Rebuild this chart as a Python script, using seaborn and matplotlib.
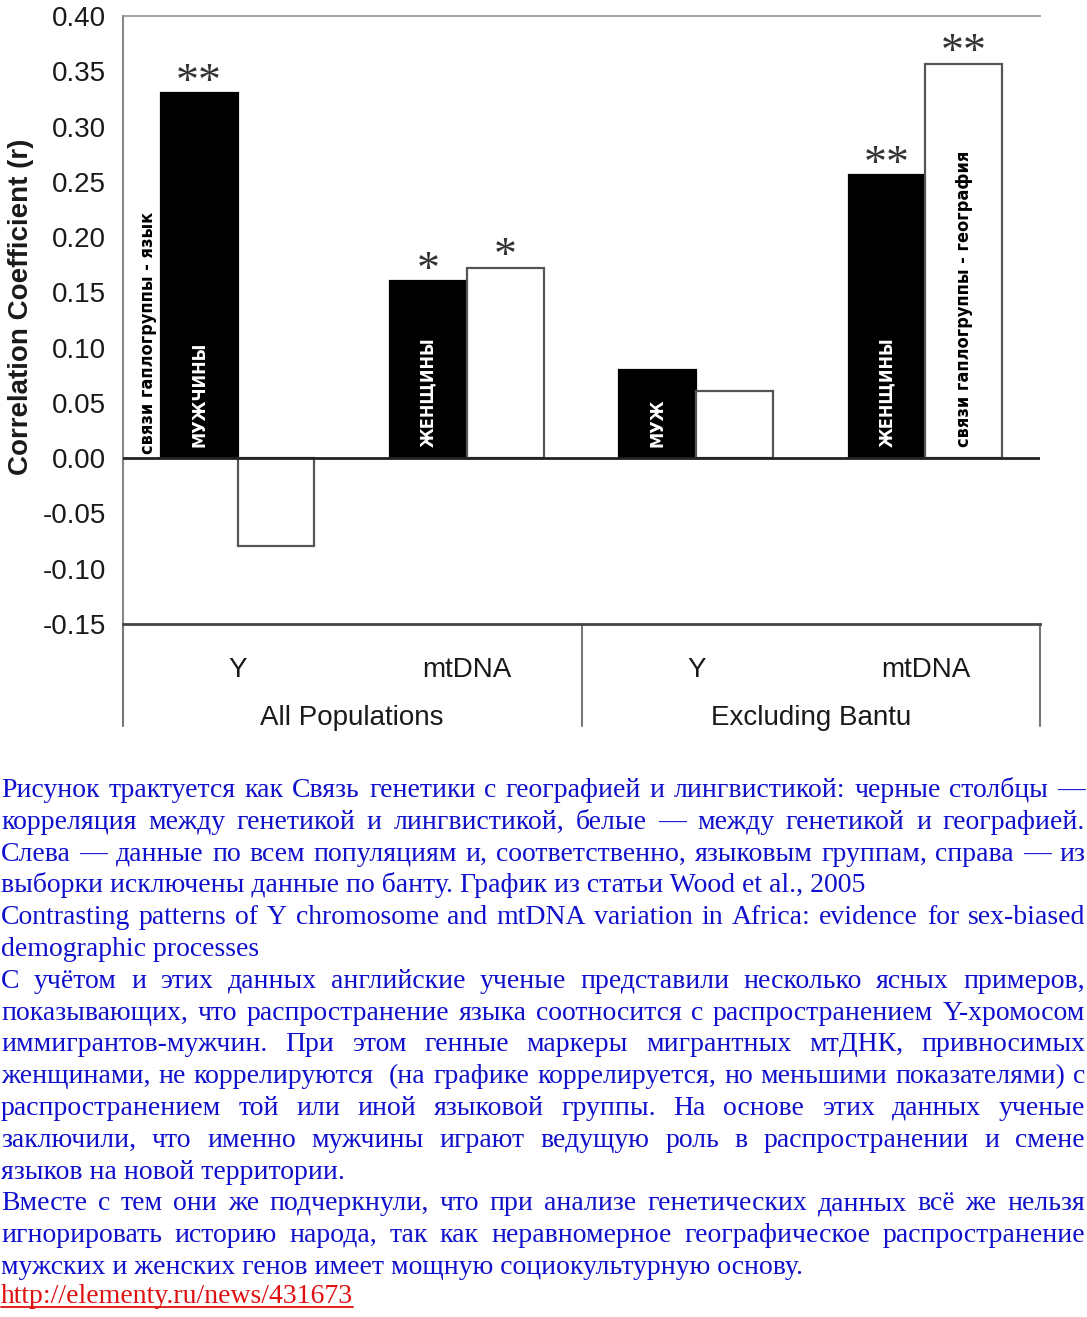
import matplotlib
matplotlib.use("Agg")
import matplotlib.pyplot as plt
import matplotlib.transforms as mtransforms
from matplotlib import font_manager as fm
from matplotlib.lines import Line2D
import numpy as np
import pandas as pd
import seaborn as sns

# ---------------- data ----------------
groups = ["All Populations", "All Populations", "Excluding Bantu", "Excluding Bantu"]
markers = ["Y", "mtDNA", "Y", "mtDNA"]
r_language = [0.330, 0.160, 0.080, 0.256]      # black bars
r_geography = [-0.079, 0.172, 0.061, 0.357]    # white bars
stars_language = ["**", "*", "", "**"]
stars_geography = ["", "*", "", "**"]
labels_language = ["МУЖЧИНЫ", "ЖЕНЩИНЫ", "МУЖ", "ЖЕНЩИНЫ"]
labels_geography = ["", "", "", "связи гаплогруппы - география"]
label_outside = "связи гаплогруппы - язык"
yticks = [-0.15, -0.10, -0.05, 0.00, 0.05, 0.10, 0.15, 0.20, 0.25, 0.30, 0.35, 0.40]
ylabel = "Correlation Coefficient (r)"

caption_lines = [
    ("Рисунок трактуется как Связь генетики с географией и лингвистикой: черные столбцы —", True),
    ("корреляция между генетикой и лингвистикой, белые — между генетикой и географией.", True),
    ("Слева — данные по всем популяциям и, соответственно, языковым группам, справа — из", True),
    ("выборки исключены данные по банту. График из статьи Wood et al., 2005", False),
    ("Contrasting patterns of Y chromosome and mtDNA variation in Africa: evidence for sex-biased", True),
    ("demographic processes", False),
    ("С учётом и этих данных английские ученые представили несколько ясных примеров,", True),
    ("показывающих, что распространение языка соотносится с распространением Y-хромосом", True),
    ("иммигрантов-мужчин. При этом генные маркеры мигрантных мтДНК, привносимых", True),
    ("женщинами, не коррелируются  (на графике коррелируется, но меньшими показателями) с", True),
    ("распространением той или иной языковой группы. На основе этих данных ученые", True),
    ("заключили, что именно мужчины играют ведущую роль в распространении и смене", True),
    ("языков на новой территории.", False),
    ("Вместе с тем они же подчеркнули, что при анализе генетических данных всё же нельзя", True),
    ("игнорировать историю народа, так как неравномерное географическое распространение", True),
    ("мужских и женских генов имеет мощную социокультурную основу.", False),
]
link_text = "http://elementy.ru/news/431673"

# ---------------- style ----------------
sns.set_theme(style="white")
plt.rcParams["font.family"] = ["Liberation Sans", "DejaVu Sans"]

available = {f.name for f in fm.fontManager.ttflist}
if "Liberation Sans Narrow" in available:
    narrow = dict(family=["Liberation Sans Narrow", "DejaVu Sans"], fontweight="bold")
else:
    narrow = dict(family=["DejaVu Sans"], fontstretch="condensed", fontweight="bold")

W, H = 1087, 1317
fig = plt.figure(figsize=(W / 100, H / 100), dpi=100)
fig.patch.set_facecolor("white")

ax_left, ax_right, ax_top, ax_bottom = 123, 1040, 16, 624
ax = fig.add_axes([ax_left / W, 1 - ax_bottom / H, (ax_right - ax_left) / W, (ax_bottom - ax_top) / H])

keys = [g + " | " + m for g, m in zip(groups, markers)]
df = pd.DataFrame({
    "key": keys + keys,
    "value": r_language + r_geography,
    "measure": ["language"] * len(keys) + ["geography"] * len(keys),
})

sns.barplot(data=df, x="key", y="value", hue="measure", hue_order=["language", "geography"],
            palette={"language": "black", "geography": "white"}, order=keys,
            width=0.67, saturation=1, edgecolor="#555555", linewidth=1.6,
            legend=False, ax=ax, zorder=2)

for p in ax.containers[0]:
    p.set_edgecolor("black")

ax.set_xlim(-0.5, len(keys) - 0.5)
ax.set_ylim(min(yticks), max(yticks))
ax.axhline(0, color="#222222", lw=2, zorder=3)

# spines
for s in ["right"]:
    ax.spines[s].set_visible(False)
ax.spines["top"].set_color("#9a9a9a")
ax.spines["top"].set_linewidth(1.3)
ax.spines["left"].set_color("#888888")
ax.spines["left"].set_linewidth(1.5)
ax.spines["bottom"].set_color("#444444")
ax.spines["bottom"].set_linewidth(2)

ax.set_yticks(yticks)
ax.set_yticklabels([f"{v:.2f}" for v in yticks])
ax.tick_params(axis="y", length=0, pad=12, labelsize=20, labelcolor="#1a1a1a")
ax.set_xticks(range(len(keys)))
ax.set_xticklabels(markers)
ax.tick_params(axis="x", length=0, pad=23.5, labelsize=20, labelcolor="#1a1a1a")
ax.set_xlabel("")
ax.set_ylabel(ylabel, fontsize=20, fontweight="bold", color="#1a1a1a")
ax.yaxis.set_label_coords(-0.097, 0.522)

# category table lines and group labels
ax_h = ax_bottom - ax_top
table_bottom = -(726 - ax_bottom) / ax_h
blend = mtransforms.blended_transform_factory(ax.transData, ax.transAxes)
uniq_groups = list(dict.fromkeys(groups))
bounds = []
for g in uniq_groups:
    idx = [i for i, gg in enumerate(groups) if gg == g]
    center = np.mean(idx)
    ax.text(center, -(718 - ax_bottom) / ax_h, g, transform=blend, ha="center", va="center",
            fontsize=20, color="#1a1a1a")
    bounds.append(max(idx) + 0.5)
for b in [-0.5] + bounds:
    ax.plot([b, b], [0, table_bottom], transform=blend, color="#777777", lw=1.5, clip_on=False)

# stars and inner labels
for cont, stars, labs, txtcol in [(ax.containers[0], stars_language, labels_language, "white"),
                                  (ax.containers[1], stars_geography, labels_geography, "black")]:
    for p, st, lb in zip(cont, stars, labs):
        xc = p.get_x() + p.get_width() / 2
        top = p.get_y() + p.get_height()
        if st:
            ax.annotate(st, (xc, top), xytext=(0, -1), textcoords="offset points",
                        ha="center", va="baseline", fontsize=33,
                        family=["Liberation Serif", "DejaVu Serif"], color="#333333", zorder=4)
        if lb:
            ax.annotate(lb, (xc, 0), xytext=(0, 8), textcoords="offset points",
                        ha="center", va="bottom", rotation=90, fontsize=13,
                        color=txtcol, zorder=4, **narrow)

first = ax.containers[0][0]
ax.annotate(label_outside, (first.get_x(), 0), xytext=(-9, 3), textcoords="offset points",
            ha="center", va="bottom", rotation=90, fontsize=13, color="black", zorder=4, **narrow)

# ---------------- caption ----------------
cap_font = dict(family=["Liberation Serif", "DejaVu Serif"], fontsize=20)
blue = "#1010cc"
renderer = fig.canvas.get_renderer()
x0, x1 = 1, 1085
base0, step = 797, 31.8
for i, (line, just) in enumerate(caption_lines):
    yb = base0 + step * i
    if just:
        words = line.split(" ")
        texts = [fig.text(0, 1 - yb / H, w, va="baseline", ha="left", color=blue, **cap_font) for w in words]
        widths = [t.get_window_extent(renderer).width if w else 0 for t, w in zip(texts, words)]
        gap = (x1 - x0 - sum(widths)) / (len(words) - 1)
        x = x0
        for t, w in zip(texts, widths):
            t.set_x(x / W)
            x += w + gap
    else:
        fig.text(x0 / W, 1 - yb / H, line, va="baseline", ha="left", color=blue, **cap_font)

yb = 1303
lt = fig.text(x0 / W, 1 - yb / H, link_text, va="baseline", ha="left", color="#e01010", **cap_font)
lw_ = lt.get_window_extent(renderer).width
fig.add_artist(Line2D([x0 / W, (x0 + lw_) / W], [1 - (yb + 4) / H] * 2, transform=fig.transFigure,
                      color="#e01010", lw=1.3))

fig.savefig("out.png", dpi=100, facecolor="white")
